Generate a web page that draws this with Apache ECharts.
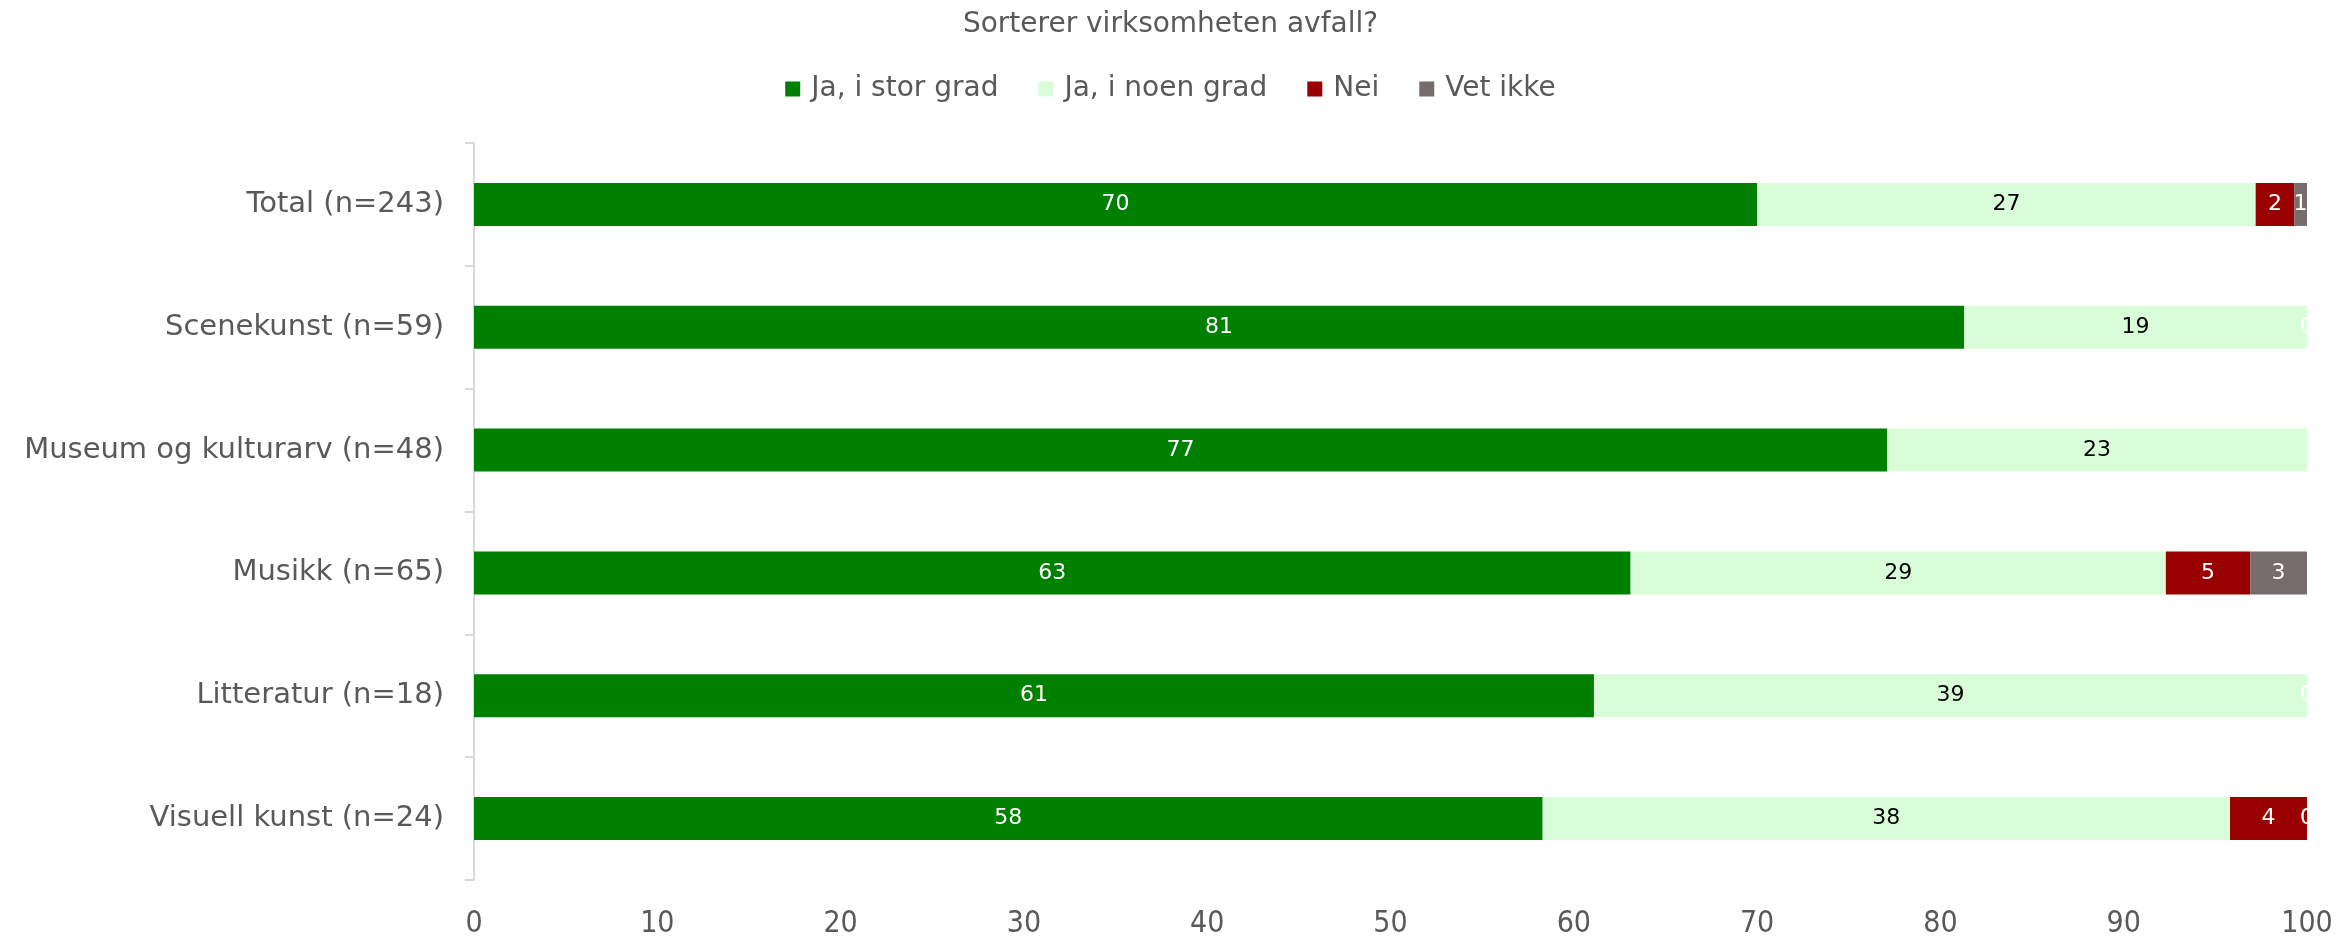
<!DOCTYPE html>
<html><head><meta charset="utf-8">
<script src="https://cdn.jsdelivr.net/npm/echarts@6/dist/echarts.min.js"></script>
<style>html,body{margin:0;padding:0;background:#fff}#c{width:2341px;height:939px}</style>
</head><body><div id="c"></div>
<script>
const title = 'Sorterer virksomheten avfall?';
const categories = ['Total (n=243)', 'Scenekunst (n=59)', 'Museum og kulturarv (n=48)', 'Musikk (n=65)', 'Litteratur (n=18)', 'Visuell kunst (n=24)'];
const seriesNames = ['Ja, i stor grad', 'Ja, i noen grad', 'Nei', 'Vet ikke'];
const jaStor = [70.0, 81.3, 77.1, 63.1, 61.1, 58.3];
const jaNoen = [27.2, 18.7, 22.9, 29.2, 38.9, 37.5];
const nei = [2.1, null, null, 4.6, null, 4.2];
const vetIkke = [0.7, 0, null, 3.1, 0, 0];
const xTicks = [0, 10, 20, 30, 40, 50, 60, 70, 80, 90, 100];

const colors = ['#008000', '#d9fdd9', '#990000', '#766c6c'];
const labelColors = ['#ffffff', '#000000', '#ffffff', '#ffffff'];
const values = [jaStor, jaNoen, nei, vetIkke];
const FONT = 'DejaVu Sans';
const FONT_C = '"DejaVu Sans Condensed", "Liberation Sans Narrow", "DejaVu Sans"';

const chart = echarts.init(document.getElementById('c'));
chart.setOption({
  animation: false,
  title: { text: title, left: 'center', top: 6, textStyle: { fontFamily: FONT, fontSize: 28, fontWeight: 'normal', color: '#595959' } },
  legend: {
    top: 70, left: 'center', itemWidth: 15, itemHeight: 15, itemGap: 40, icon: 'rect',
    textStyle: { fontFamily: FONT, fontSize: 28, color: '#595959', padding: [0, 0, 0, 6] },
    data: seriesNames
  },
  grid: { left: 474, right: 34, top: 143, bottom: 58, containLabel: false },
  xAxis: {
    type: 'value', min: 0, max: 100, interval: 10,
    axisLine: { show: false }, axisTick: { show: false }, splitLine: { show: false },
    axisLabel: { fontFamily: FONT_C, fontSize: 30, color: '#595959', margin: 29,
      formatter: v => xTicks.includes(v) ? String(v) : '' }
  },
  yAxis: {
    type: 'category', data: categories, inverse: true,
    axisLine: { show: true, lineStyle: { color: '#d9d9d9', width: 2 } },
    axisTick: { show: true, length: 9, lineStyle: { color: '#d9d9d9', width: 2 } },
    axisLabel: { fontFamily: FONT, fontSize: 29, color: '#595959', margin: 30 }
  },
  series: seriesNames.map((name, i) => ({
    name, type: 'bar', stack: 'total', barWidth: 43,
    itemStyle: { color: colors[i] },
    label: {
      show: true, position: 'inside', color: labelColors[i], fontFamily: FONT, fontSize: 22,
      formatter: p => (p.value === null || p.value === undefined) ? '' : String(Math.round(p.value))
    },
    data: values[i]
  }))
});
</script></body></html>
